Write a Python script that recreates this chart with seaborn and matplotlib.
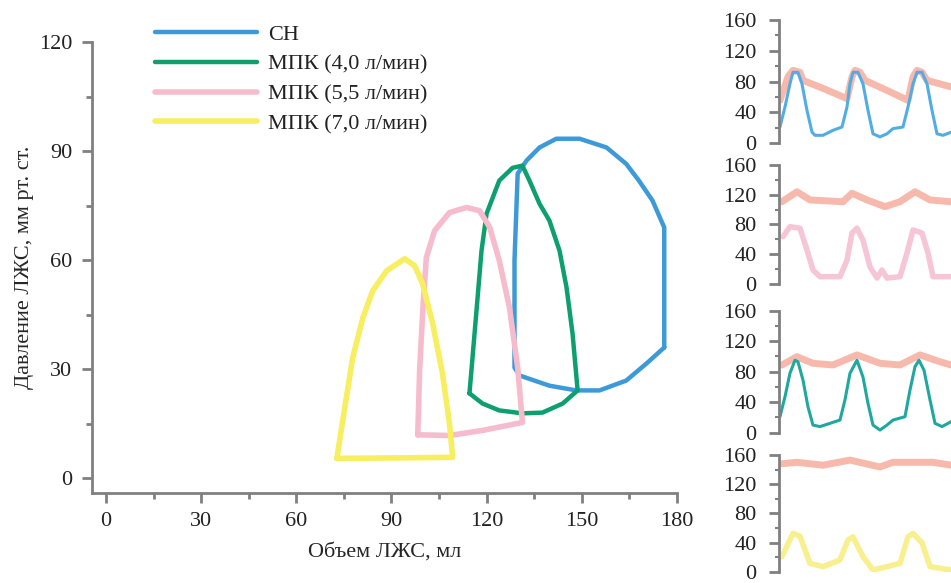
import matplotlib.pyplot as plt
import seaborn as sns

# --- PV loops: volume (ml) / pressure (mm Hg) ---
sn_vol = [176, 176, 172.3, 168, 164, 157.8, 149.3, 142, 136.7, 132.6, 129.8, 128.8, 128.8,
          130.4, 139.8, 148.3, 155.6, 164, 170.4, 176]
sn_pres = [36, 69, 76.4, 81.9, 86.5, 91, 93.4, 93.4, 91, 87.4, 83.8, 60, 30.5,
           28.3, 25.5, 24.2, 24.2, 26.9, 31.6, 36]

mpk4_vol = [114.6, 115.3, 116.9, 118.4, 120, 124, 128.2, 131.3, 133.5, 136.7, 139.8, 143,
            145.2, 147.1, 148.7, 144, 137.6, 131.3, 124, 118.7, 114.6]
mpk4_pres = [23.4, 30.5, 47, 62.6, 72.8, 81.9, 85.4, 86, 81.9, 75.5, 70.9, 62.6,
             52.5, 39.8, 24.2, 20.6, 18.1, 17.9, 18.7, 20.6, 23.4]

mpk55_vol = [98.3, 98.9, 100, 101, 103.6, 108.3, 113.7, 117.8, 121, 124, 127.2, 129.8,
             131.3, 118.7, 108.3, 98.3]
mpk55_pres = [12, 30, 48, 60.7, 68.1, 73.1, 74.5, 73.6, 69, 59.9, 47, 30.5,
              15.4, 13.2, 11.8, 12]

mpk7_vol = [72.8, 75.3, 77.8, 81, 84.1, 88.5, 94.2, 97.3, 99.8, 103, 106.1, 108.3, 109.3, 72.8]
mpk7_pres = [5.5, 19.5, 33.2, 44.2, 51.6, 57.1, 60.4, 58.5, 53.6, 42.6, 28.8, 15.1, 5.8, 5.5]

loop_labels = ["СН", "МПК (4,0 л/мин)", "МПК (5,5 л/мин)", "МПК (7,0 л/мин)"]

# --- pressure traces (time, s / pressure, mm Hg) ---
p1_lv_t = [0.01, 0.06, 0.11, 0.14, 0.19, 0.23, 0.28, 0.33, 0.36, 0.44, 0.54, 0.63, 0.68, 0.71,
           0.74, 0.79, 0.84, 0.89, 0.94, 1.01, 1.08, 1.14, 1.24, 1.29, 1.34, 1.38, 1.43, 1.48,
           1.53, 1.58, 1.64, 1.72]
p1_lv_p = [20.8, 46.8, 77, 92, 92, 77, 42.5, 14.3, 10, 10, 16.5, 20.8, 46.8, 77,
           92, 92, 77, 42.5, 12, 8, 12, 18.7, 20.8, 46.8, 77, 92, 92, 77,
           42.5, 12, 10, 14]
p1_ao_t = [0.01, 0.09, 0.14, 0.21, 0.24, 0.46, 0.68, 0.73, 0.76, 0.81, 0.86, 1.07, 1.29,
           1.34, 1.38, 1.43, 1.48, 1.72]
p1_ao_p = [55.5, 86, 94.5, 92, 81.5, 70, 57.7, 86, 94.5, 92, 81.5, 69, 55.5,
           86, 94.5, 92, 81.5, 73]

p2_lv_t = [0.04, 0.11, 0.21, 0.28, 0.34, 0.41, 0.61, 0.68, 0.73, 0.78, 0.84, 0.91, 0.98,
           1.03, 1.08, 1.21, 1.28, 1.34, 1.43, 1.49, 1.54, 1.72]
p2_lv_p = [63.6, 77, 75, 45.7, 18.8, 9.8, 9.8, 32, 68.5, 75, 59, 23, 8,
           18.8, 8, 9.8, 41.6, 72.6, 68.5, 41.6, 9.8, 9.8]
p2_ao_t = [0.03, 0.18, 0.31, 0.64, 0.73, 0.88, 1.06, 1.21, 1.36, 1.51, 1.72]
p2_ao_p = [110.6, 124, 113, 110.6, 122, 113, 104, 110.6, 124, 113, 110.6]

p3_lv_t = [0.01, 0.06, 0.11, 0.16, 0.19, 0.24, 0.29, 0.34, 0.41, 0.51, 0.61, 0.66, 0.71,
           0.78, 0.84, 0.89, 0.94, 1.01, 1.08, 1.14, 1.26, 1.31, 1.36, 1.40, 1.45, 1.51,
           1.56, 1.63, 1.72]
p3_lv_p = [21, 47, 78, 95, 93, 69, 34, 10, 8, 12.3, 16.6, 43, 78,
           95, 73, 38.5, 10, 3.5, 10, 16.6, 21, 56, 86.6, 95, 82, 43,
           12.3, 8, 14.4]
p3_ao_t = [0.03, 0.18, 0.34, 0.54, 0.78, 1.01, 1.21, 1.41, 1.61, 1.72]
p3_ao_p = [88.8, 99.7, 91, 88.8, 102, 91, 88.8, 102, 93, 88.8]

p4_lv_t = [0.03, 0.14, 0.21, 0.31, 0.44, 0.61, 0.69, 0.74, 0.84, 0.94, 1.08, 1.21, 1.29,
           1.34, 1.43, 1.51, 1.72]
p4_lv_p = [21, 52.8, 49, 11.8, 7.3, 16.4, 43.7, 48, 21, 2.7, 7.3, 11.8, 48,
           52.8, 40, 7.3, 2.7]
p4_ao_t = [0.03, 0.18, 0.44, 0.71, 1.01, 1.14, 1.54, 1.72]
p4_ao_p = [148, 150, 146, 153, 143.6, 150, 150, 146]

sns.set_theme(style="white")
plt.rcParams['font.family'] = ['Liberation Serif', 'DejaVu Serif']
plt.rcParams['text.color'] = '#222222'
plt.rcParams['xtick.color'] = '#222222'
plt.rcParams['ytick.color'] = '#222222'

spine_col = "#808080"
fig = plt.figure(figsize=(9.51, 5.83), dpi=100)

# main PV-loop axes
ax = fig.add_axes([0.0967, 0.1544, 0.6151, 0.7736])
loops = [(sn_vol, sn_pres, "#3d9ad8", 3.2),
         (mpk4_vol, mpk4_pres, "#0d9f6e", 3.2),
         (mpk55_vol, mpk55_pres, "#f6bccd", 4.0),
         (mpk7_vol, mpk7_pres, "#f7ee60", 4.0)]
for (v, p, c, w), lab in zip(loops, loop_labels):
    sns.lineplot(x=v, y=p, sort=False, estimator=None, ax=ax, color=c, lw=w,
                 label=lab, solid_joinstyle="round")

ax.set_xlim(-4.4, 180)
ax.set_ylim(-4, 120)
ax.set_xticks([0, 30, 60, 90, 120, 150, 180])
ax.set_yticks([0, 30, 60, 90, 120])
ax.set_xticks(range(15, 180, 30), minor=True)
ax.set_yticks(range(15, 120, 30), minor=True)
for s in ["top", "right"]:
    ax.spines[s].set_visible(False)
for s in ["left", "bottom"]:
    ax.spines[s].set_color(spine_col)
    ax.spines[s].set_linewidth(2)
ax.tick_params(which="major", length=7, width=2, color=spine_col, labelsize=16, pad=7)
ax.tick_params(which="minor", length=4, width=2, color=spine_col)
ax.tick_params(axis="x", which="both", bottom=True)
ax.tick_params(axis="y", which="both", left=True)
ax.set_xlabel("Объем ЛЖС, мл", fontsize=16, labelpad=8)
ax.set_ylabel("Давление ЛЖС, мм рт. ст.", fontsize=16, labelpad=4)
ax.legend(loc="upper left", bbox_to_anchor=(155 / 951, 1 - 24 / 583),
          bbox_transform=fig.transFigure, frameon=False, fontsize=16,
          handlelength=4.6, handletextpad=0.5, labelspacing=0.42,
          borderpad=0, borderaxespad=0)

# small pressure panels on the right
panels = [
    (0.7547, 0.2110, p1_lv_t, p1_lv_p, "#52ade3", 2.2, p1_ao_t, p1_ao_p),
    (0.5129, 0.2041, p2_lv_t, p2_lv_p, "#f7c6d6", 4.0, p2_ao_t, p2_ao_p),
    (0.2578, 0.2093, p3_lv_t, p3_lv_p, "#1fa8a0", 2.2, p3_ao_t, p3_ao_p),
    (0.0189, 0.2007, p4_lv_t, p4_lv_p, "#f8f08e", 4.0, p4_ao_t, p4_ao_p),
]
for bottom, height, lt, lp, lc, lw, at, ap in panels:
    sa = fig.add_axes([0.8191, bottom, 0.1809, height])
    sns.lineplot(x=at, y=ap, sort=False, estimator=None, ax=sa, color="#f5a898",
                 lw=5, alpha=0.8)
    sns.lineplot(x=lt, y=lp, sort=False, estimator=None, ax=sa, color=lc, lw=lw)
    sa.set_xlim(0, 1.72)
    sa.set_ylim(0, 160)
    sa.set_yticks([0, 40, 80, 120, 160])
    sa.set_yticks([20, 60, 100, 140], minor=True)
    sa.set_xticks([])
    for s in ["top", "right", "bottom"]:
        sa.spines[s].set_visible(False)
    sa.spines["left"].set_color(spine_col)
    sa.spines["left"].set_linewidth(2)
    sa.tick_params(axis="y", which="major", left=True, length=7, width=2,
                   color=spine_col, labelsize=16, pad=9)
    sa.tick_params(axis="y", which="minor", left=True, length=3, width=1.5, color=spine_col)
    sa.set_xlabel("")
    sa.set_ylabel("")

fig.savefig("out.png", dpi=100)
